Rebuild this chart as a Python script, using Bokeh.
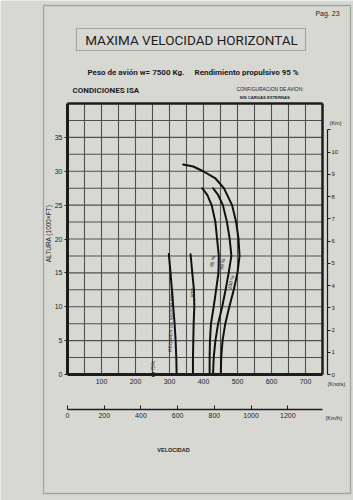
import math
from bokeh.plotting import figure
from bokeh.models import Range1d, LinearAxis, FixedTicker, Label, PolyAnnotation
from bokeh.embed import file_html
from bokeh.resources import INLINE

# ---------------- data (speed in knots vs altitude in 1000 ft) ----------------
alt_85 = [0, 2.5, 5, 7.5, 10, 12.5, 15, 17.8]
kn_85 = [321, 320, 318, 315, 311, 307, 303, 298]

alt_90 = [0, 2.5, 5, 7.5, 10, 12.5, 15, 17.75]
kn_90 = [369, 369, 370, 371, 373, 372, 367, 362]

alt_95 = [0, 2.5, 5, 7.5, 10, 12.5, 15, 17.5, 20, 22.5, 25, 26.5, 27.5]
kn_95 = [418, 418, 419, 422, 430, 437, 444, 445, 440, 435, 424, 411, 396]

alt_98 = [0, 2.5, 5, 7.5, 10, 12.5, 15, 17.5, 20, 22.5, 25, 26.5, 27.5]
kn_98 = [428, 430, 435, 443, 455, 465, 474, 482, 477, 469, 457, 443, 428]

alt_100 = [0, 2.5, 5, 7.5, 10, 12.5, 15, 17.5, 20, 22.5, 25, 27.5, 29, 30, 30.7, 31]
kn_100 = [451, 452, 456, 464, 476, 489, 500, 506, 503, 496, 484, 460, 434, 399, 370, 340]

pt_75_kn = [252]
pt_75_alt = [0]

knot_ticks = [100, 200, 300, 400, 500, 600, 700]
alt_ticks = [0, 5, 10, 15, 20, 25, 30, 35]
km_ticks = [0, 1, 2, 3, 4, 5, 6, 7, 8, 9, 10, 11]
kmh_ticks = [0, 200, 400, 600, 800, 1000, 1200]
grid_x = list(range(50, 751, 50))
grid_y = [2.5 * i for i in range(1, 17)]

X_MAX, Y_MAX = 750, 40

# ---------------- page geometry (pixels) ----------------
W, H = 353, 500
X0_PX, X750_PX = 67, 322          # knots 0 and 750
Y0_PX, Y40_PX = 374, 103          # altitude 0 and 40 (1000 ft)
PX_KN = (X750_PX - X0_PX) / X_MAX
PX_KFT = (Y0_PX - Y40_PX) / Y_MAX

BG = "#d8d8d3"
INK = "#1c1c1c"
GRID = "#4f4f4f"
FONT = "Liberation Sans"
NARROW = "Roboto"

p = figure(width=W, height=H,
           x_range=Range1d(-X0_PX / PX_KN, (W - X0_PX) / PX_KN),
           y_range=Range1d(-(H - Y0_PX) / PX_KFT, Y0_PX / PX_KFT),
           output_backend="svg", toolbar_location=None,
           x_axis_type=None, y_axis_type=None, min_border=0)
p.background_fill_color = BG
p.border_fill_color = BG
p.outline_line_color = None
p.extra_x_ranges = {"kmh": Range1d(p.x_range.start * 1.852, p.x_range.end * 1.852)}
p.extra_y_ranges = {"km": Range1d(p.y_range.start * 0.3048, p.y_range.end * 0.3048)}

def kn_at(px):
    return (px - X0_PX) / PX_KN

def kft_at(py):
    return (Y0_PX - py) / PX_KFT

# page frame and title box (screen = canvas here, origin bottom-left)
def box(x0, y0, x1, y1, lw):
    p.add_layout(PolyAnnotation(xs=[x0, x1, x1, x0], ys=[H - y0, H - y0, H - y1, H - y1],
                                xs_units="screen", ys_units="screen",
                                fill_color=None, line_color="#2e2e2e", line_width=lw))

box(43, 5, 350, 493, 1.3)
box(76, 28, 305, 50, 1.2)

# grid
p.segment(x0=grid_x[:-1], x1=grid_x[:-1], y0=0, y1=Y_MAX, line_color=GRID, line_width=1.1)
p.segment(x0=0, x1=X_MAX, y0=grid_y[:-1], y1=grid_y[:-1], line_color=GRID, line_width=1.1)
# frame top / right borders
p.segment(x0=[0, X_MAX], x1=[X_MAX, X_MAX], y0=[Y_MAX, 0], y1=[Y_MAX, Y_MAX],
          line_color=INK, line_width=2.5)

# curves
for xs, ys in [(kn_85, alt_85), (kn_90, alt_90), (kn_95, alt_95), (kn_98, alt_98), (kn_100, alt_100)]:
    p.line(xs, ys, line_color="#111111", line_width=2, line_join="round", line_cap="round")
p.scatter(pt_75_kn, pt_75_alt, size=4, marker="circle", line_color="#111111", fill_color=BG, line_width=1)

# axes (fixed inside the full-page frame)
def style(ax, size):
    ax.major_label_text_font = FONT
    ax.major_label_text_font_size = size
    ax.major_label_text_color = INK
    ax.axis_line_color = INK
    ax.major_tick_line_color = INK
    ax.minor_tick_line_color = None

ax_y = LinearAxis(ticker=FixedTicker(ticks=alt_ticks), bounds=(0, Y_MAX), fixed_location=0)
style(ax_y, "7px")
ax_y.axis_line_width = 3
ax_y.major_tick_out = 3
ax_y.major_tick_in = 0
ax_y.major_label_standoff = 2
p.add_layout(ax_y, "left")

ax_kn = LinearAxis(ticker=FixedTicker(ticks=knot_ticks), bounds=(0, X_MAX), fixed_location=0)
style(ax_kn, "7px")
ax_kn.axis_line_width = 3
ax_kn.major_tick_out = 0
ax_kn.major_tick_in = 0
ax_kn.major_label_standoff = 4
p.add_layout(ax_kn, "below")

ax_kmh = LinearAxis(x_range_name="kmh", ticker=FixedTicker(ticks=kmh_ticks),
                    bounds=(0, X_MAX * 1.852), fixed_location=kft_at(409))
style(ax_kmh, "7px")
ax_kmh.axis_line_width = 1.5
ax_kmh.major_tick_out = 0
ax_kmh.major_tick_in = 4
ax_kmh.major_label_standoff = 3
p.add_layout(ax_kmh, "below")

ax_km = LinearAxis(y_range_name="km", ticker=FixedTicker(ticks=km_ticks), bounds=(0, 11),
                   fixed_location=kn_at(327))
style(ax_km, "6px")
ax_km.axis_line_width = 1.2
ax_km.major_tick_out = 3
ax_km.major_tick_in = 0
ax_km.major_label_standoff = 1
ax_km.major_label_overrides = {11: ""}
p.add_layout(ax_km, "right")

# ---------------- texts ----------------
def sl(px, py, text, size, align="left", bold=False, font=FONT, angle=0.0):
    p.add_layout(Label(x=px, y=H - py, x_units="screen", y_units="screen",
                       text=text, text_font=font, text_font_size=size,
                       text_font_style="bold" if bold else "normal",
                       text_color=INK, text_align=align, text_baseline="middle",
                       angle=angle))

def dl(kn, kft, text, size, angle):
    p.add_layout(Label(x=kn, y=kft, text=text, text_font=FONT, text_font_size=size,
                       text_color=INK, text_align="center", text_baseline="middle",
                       angle=angle))

sl(327, 13, "Pag. 23", "7px", align="center")
sl(191, 39.5, "MAXIMA VELOCIDAD HORIZONTAL", "13.5px", align="center", font=NARROW)
sl(87, 72, "Peso de avión w= 7500 Kg.", "8px", bold=True, font=NARROW)
sl(194, 72, "Rendimiento propulsivo 95 %", "8px", bold=True, font=NARROW)
sl(72, 90, "CONDICIONES ISA", "8px", bold=True, font=NARROW)
sl(236, 88.5, "CONFIGURACION DE AVION:", "4.9px")
sl(239, 97, "SIN CARGAS EXTERNAS", "4.2px", bold=True)
sl(335, 122, "(Km)", "5.5px", align="center")
sl(327, 383.5, "(Knots)", "5.5px")
sl(325, 417, "(Km/h)", "5.5px")
sl(173, 449, "VELOCIDAD", "5.5px", align="center", bold=True)
sl(48, 233, "ALTURA (1000×FT)", "6.5px", align="center", angle=math.pi / 2)

# curve labels
dl(305, 7.8, "REGIMEN DE MOTOR 85%", "4.8px", math.radians(88))
dl(367, 12.1, "90%", "5px", math.radians(88))
dl(426, 16.7, "95 %", "5px", math.radians(78))
dl(455, 16.3, "98 %", "5px", math.radians(78))
dl(480, 13.6, "100 %", "5px", math.radians(76))
dl(250, 1.3, "75%", "5px", math.radians(90))

open("out.html", "w").write(file_html(p, INLINE))
